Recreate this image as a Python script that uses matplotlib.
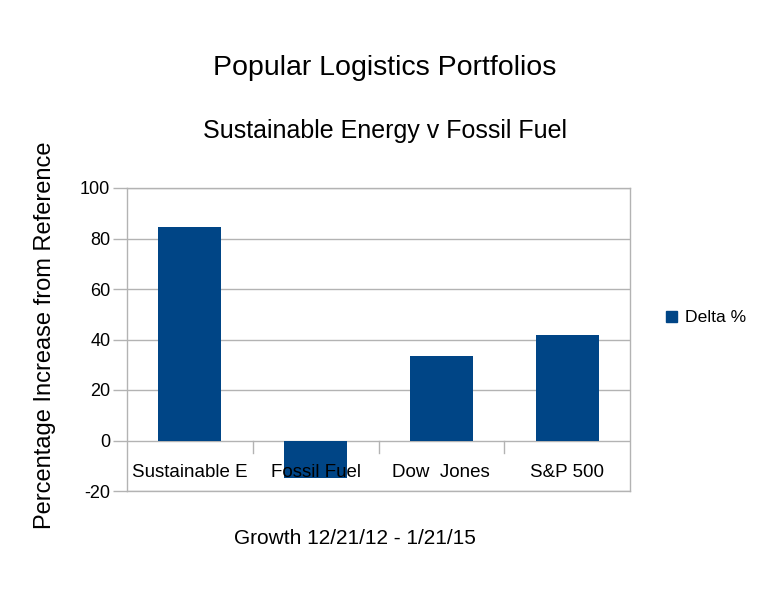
import matplotlib
matplotlib.use("Agg")
import matplotlib.pyplot as plt
from matplotlib.patches import Rectangle

categories = ["Sustainable E", "Fossil Fuel", "Dow  Jones", "S&P 500"]
values = [84.5, -15.0, 33.3, 41.6]
series_name = "Delta %"
yticks = [-20, 0, 20, 40, 60, 80, 100]

title = "Popular Logistics Portfolios"
subtitle = "Sustainable Energy v Fossil Fuel"
xlabel = "Growth 12/21/12 - 1/21/15"
ylabel = "Percentage Increase from Reference"

bar_color = "#004586"
grid_color = "#b3b3b3"

plt.rcParams['font.family'] = ['Liberation Sans', 'DejaVu Sans']

W, H = 768, 614
fig = plt.figure(figsize=(W / 100, H / 100), dpi=100)
ax = fig.add_axes([127 / W, 123 / H, 503 / W, 303 / H])

x = list(range(len(categories)))
ax.bar(x, values, width=0.5, color=bar_color, zorder=2, label=series_name)
ax.set_xlim(-0.5, len(categories) - 0.5)
ax.set_ylim(-20, 100)
ax.set_yticks(yticks)
ax.set_yticklabels([str(t) for t in yticks], fontsize=13)
ax.yaxis.grid(True, color=grid_color, linewidth=1, zorder=0)
ax.tick_params(axis='y', length=10, color=grid_color, width=1, pad=2)
ax.set_xticks([])
for s in ax.spines.values():
    s.set_color(grid_color)
    s.set_linewidth(1)

# category separators on the zero line
for b in [i + 0.5 for i in x[:-1]]:
    ax.plot([b, b], [0, -5.1], color=grid_color, linewidth=1, zorder=1)

# category labels inside the plot area
for xi, c in zip(x, categories):
    ax.text(xi, -12.8, c, ha='center', va='center', fontsize=13.5, color='black', zorder=3)

fig.text(385 / W, 1 - 68 / H, title, ha='center', va='center', fontsize=20.5)
fig.text(385 / W, 1 - 131 / H, subtitle, ha='center', va='center', fontsize=18)
fig.text(355 / W, 1 - 538 / H, xlabel, ha='center', va='center', fontsize=15)
fig.text(45 / W, 1 - 335 / H, ylabel, ha='center', va='center', fontsize=17,
         rotation=90)

# legend
fig.patches.append(Rectangle((666 / W, 1 - 322 / H), 11 / W, 11 / H,
                             transform=fig.transFigure, color=bar_color))
fig.text(685 / W, 1 - 317 / H, series_name, ha='left', va='center', fontsize=12.6)

fig.savefig("out.png", dpi=100)
